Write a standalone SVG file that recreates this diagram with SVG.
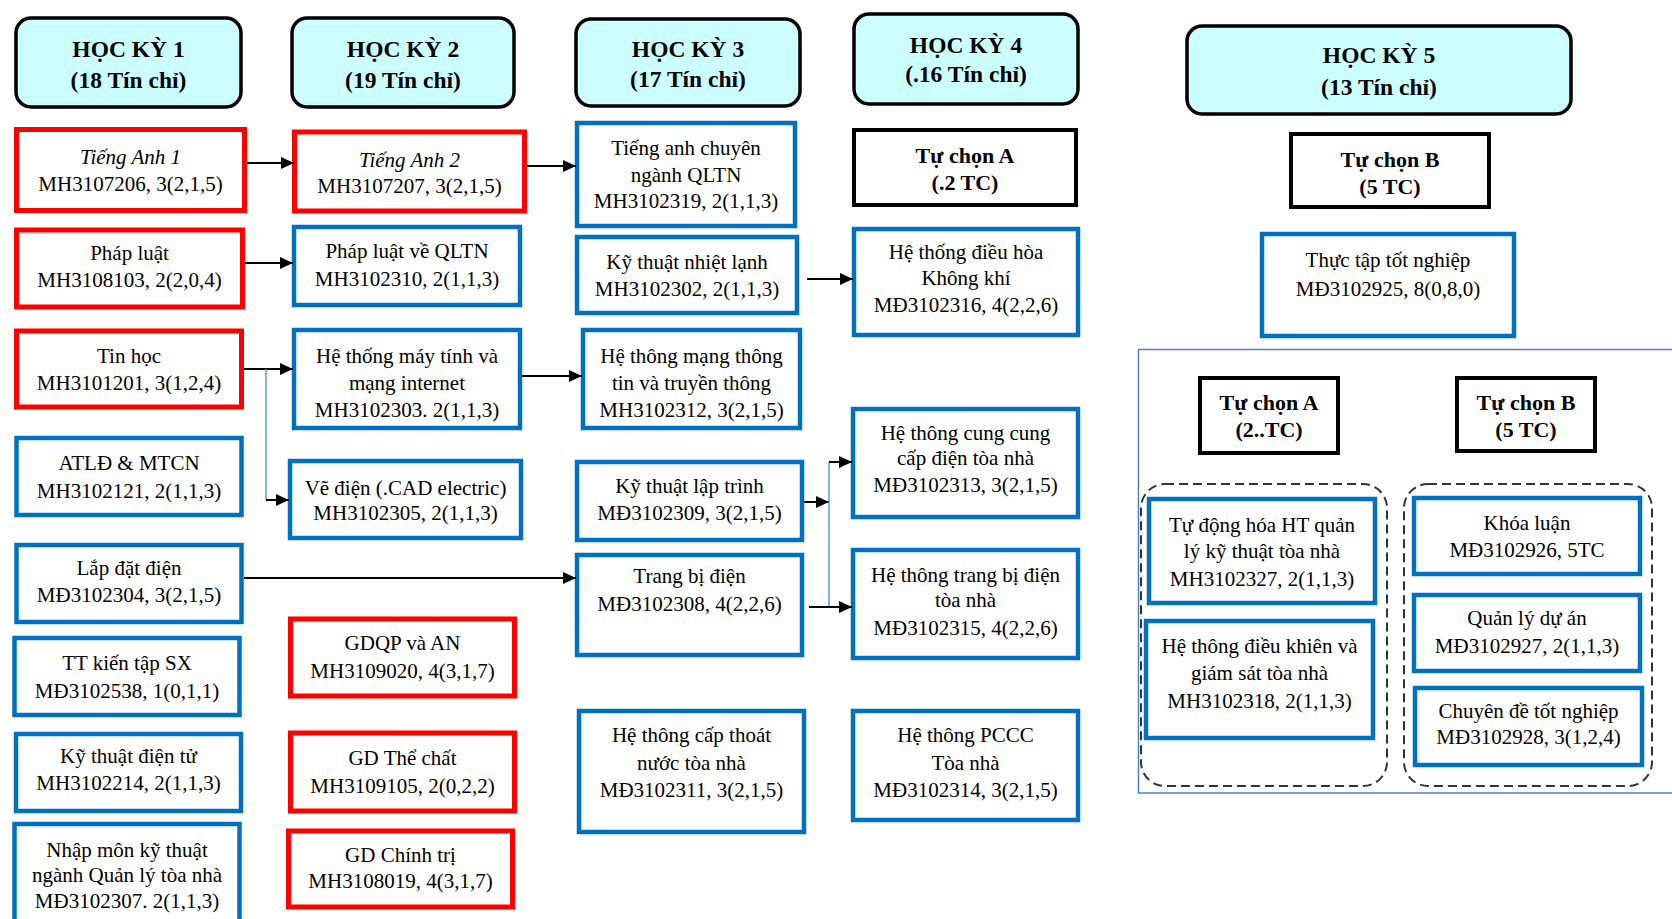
<svg xmlns="http://www.w3.org/2000/svg" width="1672" height="919" viewBox="0 0 1672 919">
  <style>
    text { font-family: "Liberation Serif", "Times New Roman", serif; fill: #000; text-anchor: middle; }
    .n { font-size: 21px; }
    .h { font-size: 23.5px; font-weight: bold; }
    .b { font-size: 22px; font-weight: bold; }
    .it { font-style: italic; }
    .head { fill: #ccffff; stroke: #000; stroke-width: 3.5; }
    .red { fill: #fff; stroke: #ff0000; stroke-width: 5; }
    .blue { fill: #fff; stroke: #0070c0; stroke-width: 4.5; }
    .blk { fill: #fff; stroke: #000; stroke-width: 4; }
    .dash { fill: none; stroke: #333; stroke-width: 2; stroke-dasharray: 9 5; }
    .frame { fill: none; stroke: #4f81bd; stroke-width: 1.5; }
    .c { fill: none; stroke: #000; stroke-width: 2; }
    .cv { fill: none; stroke: #5b9bd5; stroke-width: 1.5; }
  </style>
  <defs>
    <marker id="arr" markerUnits="userSpaceOnUse" markerWidth="14" markerHeight="12" refX="13" refY="6" orient="auto">
      <path d="M0,0 L13,6 L0,12 Z" fill="#000"/>
    </marker>
  </defs>
  <rect width="1672" height="919" fill="#fff"/>

  <!-- semester headers -->
  <g id="hk1"><rect class="head" x="16" y="18" width="225" height="89" rx="15"/><text class="h" x="128.5" y="57">HỌC KỲ 1</text><text class="h" x="128.5" y="88">(18 Tín chỉ)</text></g>
  <g id="hk2"><rect class="head" x="292" y="18" width="222" height="89" rx="15"/><text class="h" x="403" y="57">HỌC KỲ 2</text><text class="h" x="403" y="88">(19 Tín chỉ)</text></g>
  <g id="hk3"><rect class="head" x="576" y="19" width="224" height="87" rx="15"/><text class="h" x="688" y="57">HỌC KỲ 3</text><text class="h" x="688" y="87">(17 Tín chỉ)</text></g>
  <g id="hk4"><rect class="head" x="854" y="14" width="224" height="90" rx="15"/><text class="h" x="966" y="53">HỌC KỲ 4</text><text class="h" x="966" y="82">(.16 Tín chỉ)</text></g>
  <g id="hk5"><rect class="head" x="1187" y="26" width="384" height="88" rx="15"/><text class="h" x="1379" y="63">HỌC KỲ 5</text><text class="h" x="1379" y="95">(13 Tín chỉ)</text></g>

  <!-- semester 1 -->
  <g id="ta1"><rect class="red" x="16.5" y="129.5" width="228" height="81"/><text class="n"><tspan class="it" x="130.5" y="164">Tiếng Anh 1</tspan><tspan x="130.5" y="191">MH3107206, 3(2,1,5)</tspan></text></g>
  <g id="pl"><rect class="red" x="16.5" y="230" width="226" height="77"/><text class="n"><tspan x="129.5" y="260">Pháp luật</tspan><tspan x="129.5" y="287">MH3108103, 2(2,0,4)</tspan></text></g>
  <g id="tinhoc"><rect class="red" x="16.5" y="331" width="225" height="76"/><text class="n"><tspan x="129" y="363">Tin học</tspan><tspan x="129" y="390">MH3101201, 3(1,2,4)</tspan></text></g>
  <g id="atld"><rect class="blue" x="16.5" y="438" width="225" height="77"/><text class="n"><tspan x="129" y="470">ATLĐ &amp; MTCN</tspan><tspan x="129" y="498">MH3102121, 2(1,1,3)</tspan></text></g>
  <g id="ldd"><rect class="blue" x="16.5" y="545" width="225" height="77"/><text class="n"><tspan x="129" y="575">Lắp đặt điện</tspan><tspan x="129" y="602">MĐ3102304, 3(2,1,5)</tspan></text></g>
  <g id="ttkt"><rect class="blue" x="14.5" y="638" width="225" height="77"/><text class="n"><tspan x="127" y="670">TT kiến tập SX</tspan><tspan x="127" y="698">MĐ3102538, 1(0,1,1)</tspan></text></g>
  <g id="ktdt"><rect class="blue" x="16" y="734" width="225" height="77"/><text class="n"><tspan x="128.5" y="763">Kỹ thuật điện tử</tspan><tspan x="128.5" y="790">MH3102214, 2(1,1,3)</tspan></text></g>
  <g id="nhapmon"><rect class="blue" x="14.5" y="824" width="225" height="110"/><text class="n"><tspan x="127" y="857">Nhập môn kỹ thuật</tspan><tspan x="127" y="882">ngành Quản lý tòa nhà</tspan><tspan x="127" y="908">MĐ3102307. 2(1,1,3)</tspan></text></g>

  <!-- semester 2 -->
  <g id="ta2"><rect class="red" x="294.5" y="132" width="230" height="79"/><text class="n"><tspan class="it" x="409.5" y="167">Tiếng Anh 2</tspan><tspan x="409.5" y="193">MH3107207, 3(2,1,5)</tspan></text></g>
  <g id="plqltn"><rect class="blue" x="294" y="227" width="226" height="78"/><text class="n"><tspan x="407" y="258">Pháp luật về QLTN</tspan><tspan x="407" y="286">MH3102310, 2(1,1,3)</tspan></text></g>
  <g id="htmt"><rect class="blue" x="294" y="330" width="226" height="98"/><text class="n"><tspan x="407" y="363">Hệ thống máy tính và</tspan><tspan x="407" y="390">mạng internet</tspan><tspan x="407" y="417">MH3102303. 2(1,1,3)</tspan></text></g>
  <g id="vedien"><rect class="blue" x="290" y="461" width="231" height="77"/><text class="n"><tspan x="405.5" y="495">Vẽ điện (.CAD electric)</tspan><tspan x="405.5" y="520">MH3102305, 2(1,1,3)</tspan></text></g>
  <g id="gdqp"><rect class="red" x="290.5" y="619" width="224" height="77"/><text class="n"><tspan x="402.5" y="650">GDQP và AN</tspan><tspan x="402.5" y="678">MH3109020, 4(3,1,7)</tspan></text></g>
  <g id="gdtc"><rect class="red" x="290.5" y="733" width="224" height="78"/><text class="n"><tspan x="402.5" y="765">GD Thể chất</tspan><tspan x="402.5" y="793">MH3109105, 2(0,2,2)</tspan></text></g>
  <g id="gdct"><rect class="red" x="288.5" y="831" width="224" height="76"/><text class="n"><tspan x="400.5" y="862">GD Chính trị</tspan><tspan x="400.5" y="888">MH3108019, 4(3,1,7)</tspan></text></g>

  <!-- semester 3 -->
  <g id="tacn"><rect class="blue" x="577" y="123" width="218" height="103"/><text class="n"><tspan x="686" y="155">Tiếng anh chuyên</tspan><tspan x="686" y="182">ngành QLTN</tspan><tspan x="686" y="208">MH3102319, 2(1,1,3)</tspan></text></g>
  <g id="ktnl"><rect class="blue" x="577" y="237" width="220" height="76"/><text class="n"><tspan x="687" y="269">Kỹ thuật nhiệt lạnh</tspan><tspan x="687" y="296">MH3102302, 2(1,1,3)</tspan></text></g>
  <g id="htmtt"><rect class="blue" x="583" y="330" width="217" height="98"/><text class="n"><tspan x="691.5" y="363">Hệ thông mạng thông</tspan><tspan x="691.5" y="390">tin và truyền thông</tspan><tspan x="691.5" y="417">MH3102312, 3(2,1,5)</tspan></text></g>
  <g id="ktlt"><rect class="blue" x="577" y="462" width="225" height="78"/><text class="n"><tspan x="689.5" y="493">Kỹ thuật lập trình</tspan><tspan x="689.5" y="520">MĐ3102309, 3(2,1,5)</tspan></text></g>
  <g id="tbd"><rect class="blue" x="577" y="555" width="225" height="100"/><text class="n"><tspan x="689.5" y="583">Trang bị điện</tspan><tspan x="689.5" y="611">MĐ3102308, 4(2,2,6)</tspan></text></g>
  <g id="htctn"><rect class="blue" x="579" y="711" width="225" height="121"/><text class="n"><tspan x="691.5" y="742">Hệ thông cấp thoát</tspan><tspan x="691.5" y="770">nước tòa nhà</tspan><tspan x="691.5" y="797">MĐ3102311, 3(2,1,5)</tspan></text></g>

  <!-- semester 4 -->
  <g id="tca4"><rect class="blk" x="854" y="130" width="222" height="75"/><text class="b"><tspan x="965" y="163">Tự chọn A</tspan><tspan x="965" y="190">(.2 TC)</tspan></text></g>
  <g id="htdh"><rect class="blue" x="854" y="229" width="224" height="106"/><text class="n"><tspan x="966" y="259">Hệ thống điều hòa</tspan><tspan x="966" y="285">Không khí</tspan><tspan x="966" y="312">MĐ3102316, 4(2,2,6)</tspan></text></g>
  <g id="htcc"><rect class="blue" x="853" y="409" width="225" height="108"/><text class="n"><tspan x="965.5" y="440">Hệ thông cung cung</tspan><tspan x="965.5" y="465">cấp điện tòa nhà</tspan><tspan x="965.5" y="492">MĐ3102313, 3(2,1,5)</tspan></text></g>
  <g id="httbd"><rect class="blue" x="853" y="550" width="225" height="108"/><text class="n"><tspan x="965.5" y="582">Hệ thông trang bị điện</tspan><tspan x="965.5" y="607">tòa nhà</tspan><tspan x="965.5" y="635">MĐ3102315, 4(2,2,6)</tspan></text></g>
  <g id="pccc"><rect class="blue" x="853" y="711" width="225" height="109"/><text class="n"><tspan x="965.5" y="742">Hệ thông PCCC</tspan><tspan x="965.5" y="770">Tòa nhà</tspan><tspan x="965.5" y="797">MĐ3102314, 3(2,1,5)</tspan></text></g>

  <!-- semester 5 -->
  <g id="tcb5"><rect class="blk" x="1291" y="134" width="198" height="73"/><text class="b"><tspan x="1390" y="167">Tự chọn B</tspan><tspan x="1390" y="194">(5 TC)</tspan></text></g>
  <g id="tttn"><rect class="blue" x="1262" y="234" width="252" height="102"/><text class="n"><tspan x="1388" y="267">Thực tập tốt nghiệp</tspan><tspan x="1388" y="296">MĐ3102925, 8(0,8,0)</tspan></text></g>

  <!-- elective panel -->
  <g id="elective-panel">
    <rect class="frame" x="1138.5" y="349.5" width="560" height="443.5"/>
    <rect class="dash" x="1141" y="484" width="246" height="302" rx="24"/>
    <rect class="dash" x="1404" y="484" width="248" height="302" rx="24"/>
  </g>
  <g id="tca5"><rect class="blk" x="1200" y="378" width="138" height="75"/><text class="b"><tspan x="1269" y="410">Tự chọn A</tspan><tspan x="1269" y="437">(2..TC)</tspan></text></g>
  <g id="tcb5b"><rect class="blk" x="1457" y="378" width="138" height="73"/><text class="b"><tspan x="1526" y="410">Tự chọn B</tspan><tspan x="1526" y="437">(5 TC)</tspan></text></g>
  <g id="tdh"><rect class="blue" x="1149" y="499" width="226" height="104"/><text class="n"><tspan x="1262" y="532">Tự động hóa HT quản</tspan><tspan x="1262" y="558">lý kỹ thuật tòa nhà</tspan><tspan x="1262" y="586">MH3102327, 2(1,1,3)</tspan></text></g>
  <g id="htdk"><rect class="blue" x="1146" y="621" width="227" height="117"/><text class="n"><tspan x="1259.5" y="653">Hệ thông điều khiên và</tspan><tspan x="1259.5" y="680">giám sát tòa nhà</tspan><tspan x="1259.5" y="708">MH3102318, 2(1,1,3)</tspan></text></g>
  <g id="khoaluan"><rect class="blue" x="1414" y="498" width="226" height="76"/><text class="n"><tspan x="1527" y="530">Khóa luận</tspan><tspan x="1527" y="557">MĐ3102926, 5TC</tspan></text></g>
  <g id="qlda"><rect class="blue" x="1414" y="595" width="226" height="76"/><text class="n"><tspan x="1527" y="625">Quản lý dự án</tspan><tspan x="1527" y="653">MĐ3102927, 2(1,1,3)</tspan></text></g>
  <g id="cdtn"><rect class="blue" x="1415" y="688" width="227" height="77"/><text class="n"><tspan x="1528.5" y="718">Chuyên đề tốt nghiệp</tspan><tspan x="1528.5" y="744">MĐ3102928, 3(1,2,4)</tspan></text></g>

  <!-- connectors -->
  <g id="connectors">
    <path class="c" d="M247,163 H294" marker-end="url(#arr)"/>
    <path class="c" d="M245,263 H293" marker-end="url(#arr)"/>
    <path class="c" d="M244,369 H293" marker-end="url(#arr)"/>
    <path class="cv" d="M266,369 V500"/>
    <path class="c" d="M266,500 H289" marker-end="url(#arr)"/>
    <path class="c" d="M527,166 H576" marker-end="url(#arr)"/>
    <path class="c" d="M522,376 H582" marker-end="url(#arr)"/>
    <path class="c" d="M244,578 H576" marker-end="url(#arr)"/>
    <path class="c" d="M807,279 H853" marker-end="url(#arr)"/>
    <path class="c" d="M804,502 H829" marker-end="url(#arr)"/>
    <path class="cv" d="M829,462 V607"/>
    <path class="c" d="M829,462 H852" marker-end="url(#arr)"/>
    <path class="c" d="M809,607 H852" marker-end="url(#arr)"/>
  </g>
</svg>
